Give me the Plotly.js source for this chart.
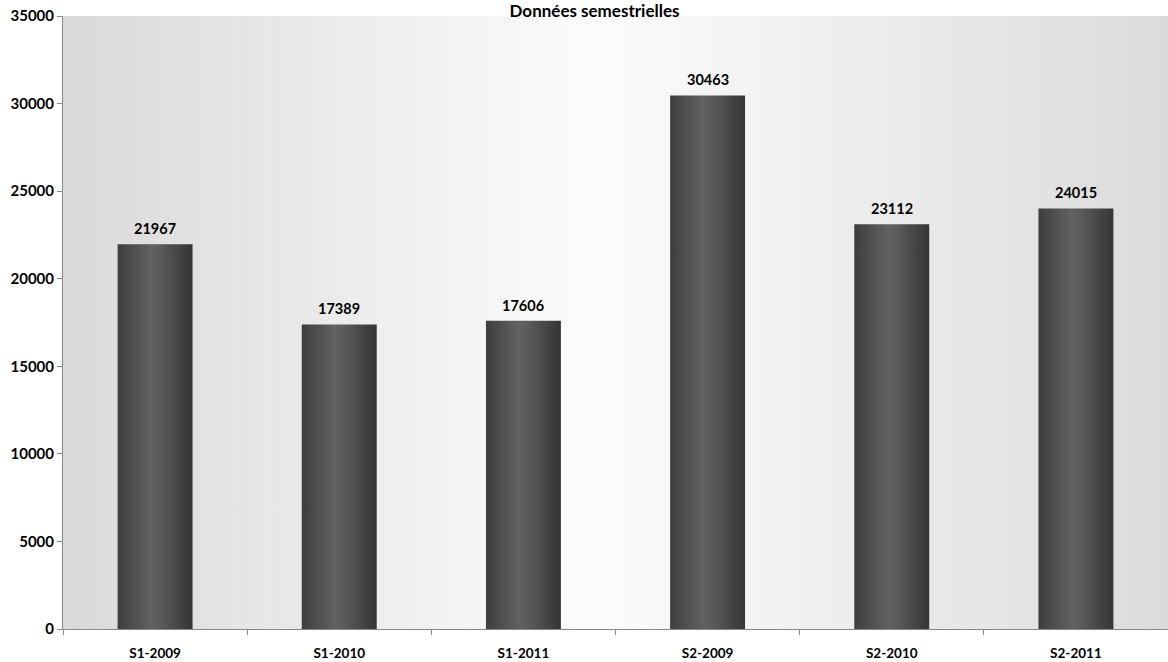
<!DOCTYPE html>
<html>
<head>
<meta charset="utf-8">
<script src="https://cdn.plot.ly/plotly-3.0.1.min.js"></script>
<style>
html,body{margin:0;padding:0;background:#fff;}
#chart{width:1168px;height:662px;}
</style>
</head>
<body>
<div id="chart"></div>
<script>
const categories = ["S1-2009", "S1-2010", "S1-2011", "S2-2009", "S2-2010", "S2-2011"];
const values = [21967, 17389, 17606, 30463, 23112, 24015];
const yTicks = [0, 5000, 10000, 15000, 20000, 25000, 30000, 35000];

const FONT = "Lato, 'Open Sans', sans-serif";

const trace = {
  type: "bar",
  x: categories,
  y: values,
  marker: {color: "#4d4d4d", line: {width: 0}},
  hoverinfo: "x+y"
};

const annotations = categories.map((c, i) => ({
  x: c, y: values[i], xref: "x", yref: "y",
  text: "<b>" + values[i] + "</b>",
  showarrow: false, yanchor: "bottom", yshift: 5,
  font: {family: FONT, size: 14.5, color: "#000"}
}));

const layout = {
  width: 1168, height: 662,
  margin: {l: 63, r: 0, t: 16, b: 33, pad: 0},
  paper_bgcolor: "#ffffff",
  plot_bgcolor: "#eeeeee",
  bargap: 0.593,
  showlegend: false,
  title: {
    text: "<b>Données semestrielles</b>",
    xref: "container", x: 0.509, xanchor: "center",
    yref: "container", y: 0.984, yanchor: "middle",
    font: {family: FONT, size: 17, color: "#000"}
  },
  xaxis: {
    type: "category",
    tickson: "boundaries",
    ticks: "outside", ticklen: 5, tickcolor: "#888", tickwidth: 1,
    ticklabelstandoff: 12,
    showline: true, linecolor: "#888", linewidth: 1,
    showgrid: false, zeroline: false,
    tickfont: {family: FONT, size: 13.5, color: "#000", weight: "bold"}
  },
  yaxis: {
    range: [0, 35000],
    tickvals: yTicks,
    ticktext: yTicks.map(String),
    ticks: "outside", ticklen: 5, tickcolor: "#888", tickwidth: 1,
    showline: true, linecolor: "#888", linewidth: 1,
    showgrid: false, zeroline: false,
    tickfont: {family: FONT, size: 15, color: "#000", weight: "bold"}
  },
  annotations: annotations
};

Plotly.newPlot("chart", [trace], layout, {displayModeBar: false, staticPlot: true}).then(function(gd){
  const svg = gd.querySelector("svg.main-svg");
  const NS = "http://www.w3.org/2000/svg";
  let defs = svg.querySelector("defs");
  if (!defs) { defs = document.createElementNS(NS, "defs"); svg.insertBefore(defs, svg.firstChild); }
  function grad(id, stops) {
    const g = document.createElementNS(NS, "linearGradient");
    g.setAttribute("id", id);
    g.setAttribute("x1", "0"); g.setAttribute("y1", "0");
    g.setAttribute("x2", "1"); g.setAttribute("y2", "0");
    stops.forEach(s => {
      const st = document.createElementNS(NS, "stop");
      st.setAttribute("offset", s[0]);
      st.setAttribute("stop-color", s[1]);
      g.appendChild(st);
    });
    defs.appendChild(g);
  }
  grad("bgGrad", [[0, "#d9d9d9"], [0.48, "#fcfcfc"], [1, "#dbdbdb"]]);
  grad("barGrad", [[0, "#3e3e3e"], [0.45, "#626262"], [0.55, "#5c5c5c"], [1, "#353535"]]);
  gd.querySelectorAll("rect.bg").forEach(r => { r.style.fill = "url(#bgGrad)"; });
  gd.querySelectorAll(".bars .point path").forEach(p => { p.style.fill = "url(#barGrad)"; });
});
</script>
</body>
</html>
